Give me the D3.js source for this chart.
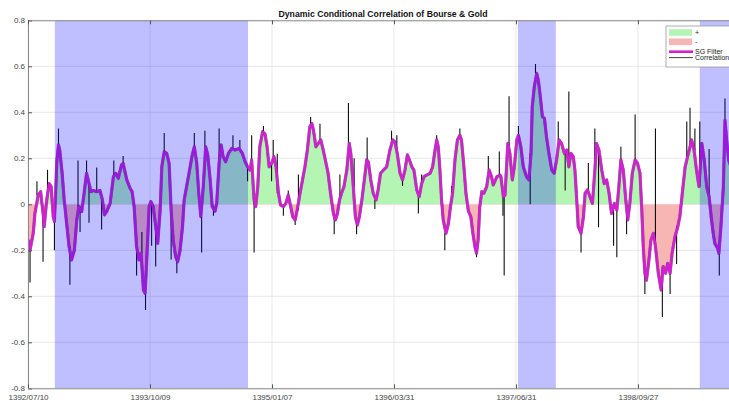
<!DOCTYPE html>
<html>
<head>
<meta charset="utf-8">
<script src="https://cdn.jsdelivr.net/npm/d3@7"></script>
<style>
  body { margin: 0; background: #fff; }
  svg { display: block; font-family: "Liberation Sans", Arial, sans-serif; }
</style>
</head>
<body>
<div id="chart"></div>
<script>
// DCC of Bourse & Gold, x = observation index

const tickIndex = [0, 300, 600, 900, 1200, 1500];
const tickLabels = ['1392/07/10', '1393/10/09', '1395/01/07', '1396/03/31', '1397/06/31', '1398/09/27'];
const yTicks = [-0.8, -0.6, -0.4, -0.2, 0, 0.2, 0.4, 0.6, 0.8];

// shaded periods [start, end] (observation index)
const shadedPeriods = [[66, 541], [1205, 1298], [1652, 1760]];

// SG filtered correlation [index, value]
const sgFilter = [
  [1, -0.155], [5, -0.2], [13, -0.125], [17, -0.04], [25, 0.04], [31, 0.055], [38, -0.054], [40, -0.097],
  [46, 0.019], [52, 0.09], [57, 0.077], [62, -0.054], [65, -0.075], [71, 0.19], [75, 0.258], [78, 0.236],
  [84, 0.135], [89, 0.019], [95, -0.083], [101, -0.184], [107, -0.242], [114, -0.2], [120, -0.068], [125, -0.01],
  [132, -0.032], [138, 0.048], [144, 0.135], [150, 0.091], [155, 0.055], [161, 0.06], [169, 0.055], [177, 0.06],
  [183, 0.019], [188, -0.046], [194, -0.03], [202, 0.004], [210, 0.12], [216, 0.135], [222, 0.113], [230, 0.171],
  [234, 0.178], [243, 0.106], [251, 0.07], [256, 0.055], [261, -0.01], [267, -0.184], [273, -0.242], [278, -0.213],
  [284, -0.373], [288, -0.387], [292, -0.242], [298, -0.01], [302, 0.012], [308, -0.01], [314, -0.097], [319, -0.17],
  [325, -0.025], [329, 0.163], [335, 0.229], [341, 0.222], [347, 0.178], [352, -0.025], [357, -0.155], [363, -0.228],
  [368, -0.25], [374, -0.2], [380, -0.097], [384, 0.019], [390, 0.077], [396, 0.135], [403, 0.207], [409, 0.25],
  [415, 0.178], [420, 0.048], [425, -0.054], [431, 0.077], [437, 0.25], [442, 0.215], [448, 0.106], [453, -0.01],
  [460, -0.03], [464, 0.004], [470, 0.178], [475, 0.258], [480, 0.207], [486, 0.185], [493, 0.222], [501, 0.243],
  [509, 0.236], [519, 0.243], [527, 0.222], [534, 0.185], [540, 0.163], [546, 0.149], [550, 0.193], [556, 0.019],
  [560, -0.01], [565, 0.077], [570, 0.25], [577, 0.316], [583, 0.305], [588, 0.25], [593, 0.163], [599, 0.178],
  [605, 0.207], [610, 0.163], [616, 0.048], [621, -0.003], [628, -0.01], [634, 0.004], [640, 0.04], [646, -0.01],
  [651, -0.054], [657, -0.068], [662, -0.025], [669, 0.048], [675, 0.106], [681, 0.163], [687, 0.236], [693, 0.337],
  [698, 0.352], [702, 0.323], [708, 0.25], [714, 0.265], [720, 0.28], [726, 0.236], [733, 0.178], [738, 0.135],
  [744, 0.048], [751, -0.04], [756, -0.068], [761, -0.04], [766, 0.019], [771, 0.048], [777, 0.077], [784, 0.149],
  [790, 0.265], [794, 0.22], [800, 0.077], [805, -0.054], [810, -0.09], [815, -0.054], [821, 0.019], [826, 0.09],
  [833, 0.193], [837, 0.185], [843, 0.106], [849, 0.048], [856, 0.019], [861, 0.063], [867, 0.135], [874, 0.149],
  [882, 0.163], [890, 0.236], [897, 0.28], [902, 0.272], [908, 0.222], [915, 0.135], [921, 0.106], [927, 0.149],
  [933, 0.215], [938, 0.193], [944, 0.163], [949, 0.149], [956, 0.063], [962, 0.033], [968, 0.09], [974, 0.12],
  [980, 0.127], [989, 0.135], [995, 0.163], [1001, 0.236], [1005, 0.28], [1009, 0.25], [1013, 0.149], [1017, 0.019],
  [1021, -0.068], [1028, -0.126], [1034, -0.083], [1039, -0.01], [1044, 0.048], [1050, 0.193], [1056, 0.28], [1062, 0.3],
  [1066, 0.28], [1072, 0.163], [1077, 0.048], [1083, -0.03], [1089, -0.054], [1094, -0.126], [1099, -0.184], [1103, -0.213],
  [1107, -0.155], [1111, -0.01], [1116, 0.055], [1121, 0.048], [1128, 0.077], [1134, 0.149], [1140, 0.12], [1144, 0.084],
  [1153, 0.12], [1161, 0.127], [1163, 0.12], [1169, 0.033], [1173, 0.04], [1180, 0.265], [1185, 0.222], [1191, 0.106],
  [1196, 0.163], [1202, 0.28], [1206, 0.3], [1212, 0.25], [1218, 0.163], [1226, 0.12], [1232, 0.106], [1237, 0.222],
  [1240, 0.424], [1245, 0.511], [1251, 0.569], [1255, 0.54], [1259, 0.482], [1265, 0.381], [1270, 0.374], [1275, 0.294],
  [1281, 0.222], [1288, 0.149], [1294, 0.135], [1300, 0.193], [1306, 0.28], [1312, 0.265], [1319, 0.222], [1325, 0.236],
  [1330, 0.163], [1335, 0.222], [1341, 0.207], [1345, 0.149], [1349, 0.033], [1353, -0.097], [1360, -0.126], [1366, -0.054],
  [1370, 0.048], [1376, 0.063], [1382, 0.033], [1388, 0.004], [1394, 0.149], [1398, 0.265], [1404, 0.236], [1411, 0.149],
  [1417, 0.09], [1423, 0.106], [1429, 0.048], [1435, -0.04], [1442, 0.004], [1448, -0.025], [1453, 0.077], [1458, 0.193],
  [1464, 0.149], [1470, 0.019], [1475, -0.068], [1480, 0.004], [1486, 0.135], [1493, 0.193], [1499, 0.178], [1505, 0.135],
  [1509, -0.01], [1513, -0.184], [1517, -0.3], [1521, -0.33], [1527, -0.242], [1532, -0.155], [1538, -0.126], [1543, -0.184],
  [1550, -0.3], [1557, -0.373], [1562, -0.271], [1568, -0.3], [1573, -0.257], [1579, -0.3], [1584, -0.213], [1591, -0.141],
  [1598, -0.097], [1603, -0.054], [1609, 0.048], [1616, 0.163], [1622, 0.207], [1628, 0.25], [1632, 0.28], [1638, 0.236],
  [1644, 0.149], [1650, 0.077], [1657, 0.265], [1663, 0.193], [1669, 0.077], [1675, 0.033], [1680, -0.054], [1685, -0.126],
  [1689, -0.17], [1696, -0.192], [1699, -0.213], [1704, -0.097], [1710, 0.077], [1714, 0.366], [1719, 0.265], [1723, 0.193],
  [1731, 0.15], [1741, 0.18]
];

// raw correlation: hugs the filter, these are the strokes where it sticks out [index, value]
const corrSpikes = [
  [5, -0.34], [22, 0.1], [37, -0.25], [48, 0.15], [65, -0.2], [75, 0.33], [103, -0.35], [123, 0.19],
  [128, -0.12], [144, 0.19], [150, -0.08], [169, 0.16], [181, -0.11], [211, 0.19], [234, 0.21], [267, -0.31],
  [280, -0.12], [289, -0.46], [304, -0.18], [314, -0.27], [335, 0.31], [352, -0.24], [366, -0.3], [409, 0.31],
  [427, -0.21], [435, 0.32], [456, -0.05], [470, 0.33], [504, 0.3], [521, 0.28], [540, 0.1], [550, 0.3],
  [556, -0.21], [579, 0.34], [599, 0.1], [603, 0.28], [613, 0.22], [628, -0.05], [640, 0.06], [657, -0.09],
  [665, 0.13], [695, 0.38], [718, 0.35], [753, -0.13], [767, 0.13], [788, 0.44], [802, 0.2], [808, -0.13],
  [834, 0.29], [853, -0.02], [894, 0.32], [907, 0.3], [921, 0.08], [960, -0.04], [968, 0.13], [1005, 0.3],
  [1025, -0.2], [1042, 0.08], [1062, 0.33], [1103, -0.23], [1132, 0.21], [1159, 0.23], [1168, -0.05], [1171, -0.31],
  [1183, 0.47], [1206, 0.34], [1235, 0.0], [1248, 0.61], [1304, 0.36], [1321, 0.06], [1330, 0.49], [1360, -0.21],
  [1378, 0.18], [1394, 0.33], [1403, -0.1], [1440, -0.18], [1448, -0.23], [1458, 0.25], [1472, -0.13], [1493, 0.39],
  [1517, -0.39], [1543, 0.33], [1560, -0.49], [1579, -0.39], [1595, -0.26], [1620, 0.36], [1628, 0.42], [1640, 0.33],
  [1652, 0.36], [1675, 0.24], [1700, -0.31], [1714, 0.46]
];

const width = 729;
const height = 401;
const plotLeft = 28, plotRight = 738, plotTop = 20.3, plotBottom = 388.3;

const svg = d3.select('#chart').append('svg')
  .attr('width', width)
  .attr('height', height);

const x = d3.scaleLinear().domain([0, 1746]).range([plotLeft, plotRight]);
const y = d3.scaleLinear().domain([-0.8, 0.8]).range([plotBottom, plotTop]);

const defs = svg.append('defs');
defs.append('clipPath').attr('id', 'plot')
  .append('rect').attr('x', plotLeft).attr('y', plotTop)
  .attr('width', plotRight - plotLeft).attr('height', plotBottom - plotTop);
defs.append('clipPath').attr('id', 'pos')
  .append('rect').attr('x', plotLeft).attr('y', plotTop)
  .attr('width', plotRight - plotLeft).attr('height', y(0) - plotTop);
defs.append('clipPath').attr('id', 'neg')
  .append('rect').attr('x', plotLeft).attr('y', y(0))
  .attr('width', plotRight - plotLeft).attr('height', plotBottom - y(0));

// grid
const grid = svg.append('g').attr('stroke', '#e3e3e3').attr('stroke-width', 0.8);
grid.selectAll('.gy').data(yTicks).enter().append('line')
  .attr('x1', plotLeft).attr('x2', plotRight)
  .attr('y1', d => y(d)).attr('y2', d => y(d));
grid.selectAll('.gx').data(tickIndex).enter().append('line')
  .attr('x1', d => x(d)).attr('x2', d => x(d))
  .attr('y1', plotTop).attr('y2', plotBottom);

const plot = svg.append('g').attr('clip-path', 'url(#plot)');

const area = d3.area()
  .x(d => x(d[0]))
  .y0(y(0))
  .y1(d => y(d[1]));

plot.append('path').datum(sgFilter)
  .attr('clip-path', 'url(#pos)')
  .attr('fill', '#b4f5b4')
  .attr('d', area);

plot.append('path').datum(sgFilter)
  .attr('clip-path', 'url(#neg)')
  .attr('fill', '#f7b6b4')
  .attr('d', area);

const line = d3.line()
  .x(d => x(d[0]))
  .y(d => y(d[1]));

// correlation: thin black line under the filter, plus its short vertical strokes
plot.append('path').datum(sgFilter)
  .attr('fill', 'none')
  .attr('stroke', '#222')
  .attr('stroke-opacity', 0.55)
  .attr('stroke-width', 3.2)
  .attr('stroke-linejoin', 'round')
  .attr('d', line);

const nearest = d3.bisector(d => d[0]).center;
plot.selectAll('.spike').data(corrSpikes).enter().append('line')
  .attr('x1', d => x(d[0]))
  .attr('x2', d => x(d[0]))
  .attr('y1', d => y(sgFilter[nearest(sgFilter, d[0])][1]))
  .attr('y2', d => y(d[1]))
  .attr('stroke', '#111')
  .attr('stroke-width', 1.1);

plot.append('path').datum(sgFilter)
  .attr('fill', 'none')
  .attr('stroke', '#d41ed4')
  .attr('stroke-width', 2.6)
  .attr('stroke-linejoin', 'round')
  .attr('d', line);

plot.selectAll('.shade').data(shadedPeriods).enter().append('rect')
  .attr('x', d => x(d[0]))
  .attr('width', d => x(d[1]) - x(d[0]))
  .attr('y', plotTop)
  .attr('height', plotBottom - plotTop)
  .attr('fill', 'rgba(0, 0, 255, 0.25)');

// axes
const yAxis = svg.append('g')
  .attr('transform', `translate(${plotLeft}, 0)`)
  .call(d3.axisLeft(y).tickValues(yTicks).tickSize(-4).tickPadding(3)
    .tickFormat(d => String(d)));

const xAxis = svg.append('g')
  .attr('transform', `translate(0, ${plotBottom})`)
  .call(d3.axisBottom(x).tickValues(tickIndex).tickSize(-4).tickPadding(6)
    .tickFormat((d, i) => tickLabels[i]));

const xTop = svg.append('g')
  .attr('transform', `translate(0, ${plotTop})`)
  .call(d3.axisTop(x).tickValues(tickIndex).tickSize(-4).tickFormat(''));

[yAxis, xAxis, xTop].forEach(g => {
  g.select('.domain').attr('stroke', '#8a8a8a').attr('stroke-width', 1);
  g.selectAll('.tick line').attr('stroke', '#555');
  g.selectAll('.tick text').attr('fill', '#444').style('font-size', '8px')
    .style('font-family', '"Liberation Sans", Arial, sans-serif');
});

svg.append('text')
  .attr('x', 383)
  .attr('y', 17)
  .attr('text-anchor', 'middle')
  .style('font-size', '8.7px')
  .style('font-weight', 'bold')
  .attr('fill', '#111')
  .text('Dynamic Conditional Correlation of Bourse & Gold');

// legend
const legend = svg.append('g');
legend.append('rect')
  .attr('x', 666).attr('y', 26)
  .attr('width', 80).attr('height', 41)
  .attr('fill', '#fff')
  .attr('stroke', '#9a9a9a')
  .attr('stroke-width', 0.8);

const legendItems = [
  { label: '+', type: 'patch', color: '#b4f5b4', y: 32.5 },
  { label: '-', type: 'patch', color: '#f7b6b4', y: 41.8 },
  { label: 'SG Filter', type: 'line', color: '#d41ed4', width: 2.6, y: 51.7 },
  { label: 'Correlation', type: 'line', color: '#111', width: 0.8, y: 57.6 }
];

legendItems.forEach(d => {
  if (d.type === 'patch') {
    legend.append('rect')
      .attr('x', 669).attr('y', d.y - 3.3)
      .attr('width', 23).attr('height', 6.6)
      .attr('fill', d.color);
  } else {
    legend.append('line')
      .attr('x1', 669).attr('x2', 693)
      .attr('y1', d.y).attr('y2', d.y)
      .attr('stroke', d.color)
      .attr('stroke-width', d.width);
  }
  legend.append('text')
    .attr('x', 695)
    .attr('y', d.y + 2.5)
    .style('font-size', '7px')
    .attr('fill', '#222')
    .text(d.label);
});
</script>
</body>
</html>
